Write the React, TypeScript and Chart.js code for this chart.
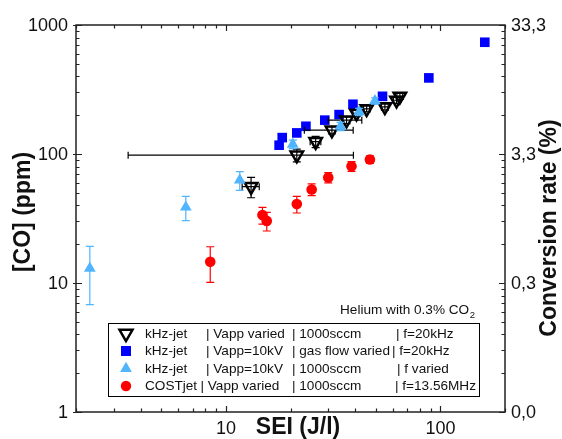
import React, { useEffect, useRef } from 'react';
import { Chart, registerables } from 'chart.js';

Chart.register(...registerables);

// ---------- Data ----------
// kHz-jet | Vapp varied | 1000sccm | f=20kHz (open inverted triangles)
const vappSEI = [13.1, 21.4, 26.2, 31.2, 36.5, 40.6, 45.3, 55.1, 62.4, 64.7];
const vappCO = [55.8, 98, 124.5, 153, 183, 207, 224, 232, 261, 280];
const vappSEIErr = [1.2, 17.9, 1.5, 8, 6.5, 1.5, 1.5, 2, 2, 2];
const vappCOErr = [10, 11, 12.5, 10, 11, 12, 12, 13, 14, 15];

// kHz-jet | Vapp=10kV | gas flow varied | f=20kHz (blue squares)
const flowSEI = [17.7, 18.3, 21.4, 23.6, 28.9, 33.7, 39.1, 53.7, 88.3, 161];
const flowCO = [117, 134, 145.7, 164, 183, 202, 243, 280, 389, 735];

// kHz-jet | Vapp=10kV | 1000sccm | f varied (light blue triangles)
const freqSEI = [2.32, 6.5, 11.6, 20.5, 34.2, 41.8, 49.5];
const freqCO = [13.0, 38.7, 62.7, 119, 164, 212, 258];
const freqCOErr = [6.2, 8.3, 10.4, 9, 12, 14, 15];

// COSTjet | Vapp varied | 1000sccm | f=13.56MHz (red circles)
const costSEI = [8.45, 14.8, 15.5, 21.4, 25.1, 30.0, 38.5, 46.9];
const costCO = [14.6, 33.6, 30.3, 40.9, 53.1, 65.8, 80.4, 90.6];
const costCOErr = [4.5, 5, 5, 6, 5.5, 6, 7, 6];

// ---------- Axis labels ----------
const xTickValues = [10, 100];
const xTickLabels = ['10', '100'];
const yTickValues = [1, 10, 100, 1000];
const yTickLabels = ['1', '10', '100', '1000'];
const rightTickLabels = ['0,0', '0,3', '3,3', '33,3'];
const xTitle = 'SEI (J/l)';
const yTitle = '[CO] (ppm)';
const rightTitle = 'Conversion rate (%)';

// ---------- Legend ----------
const legendNames = ['kHz-jet', 'kHz-jet', 'kHz-jet', 'COSTjet'];
const legendVapp = ['| Vapp varied', '| Vapp=10kV', '| Vapp=10kV', '| Vapp varied'];
const legendFlow = ['| 1000sccm', '| gas flow varied', '| 1000sccm', '| 1000sccm'];
const legendFreq = ['| f=20kHz', '| f=20kHz', '| f varied', '| f=13.56MHz'];
const annotationText = 'Helium with 0.3% CO';
const annotationSub = '2';

const BLACK = '#000000';
const BLUE = '#0000FF';
const LIGHTBLUE = '#50B4FF';
const RED = '#FF0000';

const FONT = '"Liberation Sans", Arial, Helvetica, sans-serif';

const toPoints = (xs: number[], ys: number[]) => xs.map((x, i) => ({ x, y: ys[i] }));

const errorBarPlugin = {
  id: 'errorBars',
  beforeDatasetDraw(chart: any, args: any) {
    const ds: any = chart.data.datasets[args.index];
    if (!ds.errY && !ds.errX) return;
    const xs = chart.scales.x;
    const ys = chart.scales.y;
    const ctx = chart.ctx;
    ctx.save();
    ctx.strokeStyle = ds.errColor;
    ctx.lineWidth = 1.2;
    const cap = 4;
    (ds.data as any[]).forEach((p, i) => {
      const px = xs.getPixelForValue(p.x);
      const py = ys.getPixelForValue(p.y);
      if (ds.errY) {
        const e = ds.errY[i];
        const y1 = ys.getPixelForValue(p.y + e);
        const y2 = ys.getPixelForValue(Math.max(p.y - e, 1e-6));
        ctx.beginPath();
        ctx.moveTo(px, y1); ctx.lineTo(px, y2);
        ctx.moveTo(px - cap, y1); ctx.lineTo(px + cap, y1);
        ctx.moveTo(px - cap, y2); ctx.lineTo(px + cap, y2);
        ctx.stroke();
      }
      if (ds.errX) {
        const e = ds.errX[i];
        const x1 = xs.getPixelForValue(Math.max(p.x - e, 1e-6));
        const x2 = xs.getPixelForValue(p.x + e);
        ctx.beginPath();
        ctx.moveTo(x1, py); ctx.lineTo(x2, py);
        ctx.moveTo(x1, py - 3.5); ctx.lineTo(x1, py + 3.5);
        ctx.moveTo(x2, py - 3.5); ctx.lineTo(x2, py + 3.5);
        ctx.stroke();
      }
    });
    ctx.restore();
  },
};

function minorValues(min: number, max: number) {
  const out: { v: number; major: boolean }[] = [];
  for (let d = 1; d <= 1000; d *= 10) {
    for (let m = 1; m <= 9; m++) {
      const v = m * d;
      if (v >= min - 1e-9 && v <= max + 1e-9) out.push({ v, major: m === 1 });
    }
  }
  return out;
}

const framePlugin = {
  id: 'frame',
  afterDraw(chart: any) {
    const { ctx, chartArea } = chart;
    const { left, right, top, bottom } = chartArea;
    const xs = chart.scales.x;
    const ys = chart.scales.y;
    ctx.save();
    ctx.strokeStyle = '#222';
    ctx.lineWidth = 1.5;
    ctx.strokeRect(left, top, right - left, bottom - top);

    // ticks
    ctx.lineWidth = 1.2;
    ctx.beginPath();
    minorValues(xs.min, xs.max).forEach(({ v, major }) => {
      const px = Math.round(xs.getPixelForValue(v)) + 0.5;
      const len = major ? 6 : 3.5;
      ctx.moveTo(px, bottom); ctx.lineTo(px, bottom - len);
      ctx.moveTo(px, top); ctx.lineTo(px, top + len);
    });
    minorValues(ys.min, ys.max).forEach(({ v, major }) => {
      const py = Math.round(ys.getPixelForValue(v)) + 0.5;
      const len = major ? 6 : 3.5;
      ctx.moveTo(left - (major ? 3 : 0), py); ctx.lineTo(left + len, py);
      ctx.moveTo(right, py); ctx.lineTo(right - len, py);
    });
    ctx.stroke();

    // tick labels
    ctx.fillStyle = '#111';
    ctx.font = `18px ${FONT}`;
    ctx.textBaseline = 'middle';
    ctx.textAlign = 'center';
    xTickValues.forEach((v, i) => {
      ctx.fillText(xTickLabels[i], xs.getPixelForValue(v), bottom + 17);
    });
    ctx.textAlign = 'right';
    yTickValues.forEach((v, i) => {
      ctx.fillText(yTickLabels[i], left - 8, ys.getPixelForValue(v) + 1);
    });
    ctx.textAlign = 'left';
    yTickValues.forEach((v, i) => {
      ctx.fillText(rightTickLabels[i], right + 6, ys.getPixelForValue(v) + 1);
    });

    // titles
    ctx.font = `bold 23px ${FONT}`;
    ctx.textAlign = 'center';
    ctx.fillText(xTitle, 298, bottom + 16);
    ctx.save();
    ctx.translate(24, 212);
    ctx.rotate(-Math.PI / 2);
    ctx.fillText(yTitle, 0, 0);
    ctx.restore();
    ctx.save();
    ctx.translate(550, 228);
    ctx.rotate(-Math.PI / 2);
    ctx.fillText(rightTitle, 0, 0);
    ctx.restore();

    // annotation
    ctx.font = `13.6px ${FONT}`;
    ctx.textAlign = 'left';
    ctx.fillText(annotationText, 340, 310);
    const w = ctx.measureText(annotationText).width;
    ctx.font = `9.5px ${FONT}`;
    ctx.fillText(annotationSub, 340 + w + 0.5, 315);

    // legend box
    const bx = 108, by = 323, bw = 371, bh = 73;
    ctx.lineWidth = 1;
    ctx.strokeStyle = '#000';
    ctx.strokeRect(bx + 0.5, by + 0.5, bw, bh);
    const rowY = [333.5, 351, 368.5, 386];
    const sx = 126;
    {
      const r = 7.5, y = rowY[0];
      ctx.beginPath();
      ctx.moveTo(sx, y + r);
      ctx.lineTo(sx - r * 0.866, y - r / 2);
      ctx.lineTo(sx + r * 0.866, y - r / 2);
      ctx.closePath();
      ctx.lineWidth = 2.5;
      ctx.strokeStyle = BLACK;
      ctx.stroke();
    }
    ctx.fillStyle = BLUE;
    ctx.fillRect(sx - 5, rowY[1] - 5, 10, 10);
    {
      const r = 6.8, y = rowY[2];
      ctx.beginPath();
      ctx.moveTo(sx, y - r);
      ctx.lineTo(sx - r * 0.866, y + r / 2);
      ctx.lineTo(sx + r * 0.866, y + r / 2);
      ctx.closePath();
      ctx.fillStyle = LIGHTBLUE;
      ctx.fill();
    }
    ctx.beginPath();
    ctx.arc(sx, rowY[3], 5.2, 0, Math.PI * 2);
    ctx.fillStyle = RED;
    ctx.fill();

    ctx.fillStyle = '#111';
    ctx.font = `13.6px ${FONT}`;
    const vappX = [206, 206, 206, 200.5];
    const freqX = [396, 392, 397, 395];
    for (let i = 0; i < 4; i++) {
      ctx.fillText(legendNames[i], 145, rowY[i] + 0.5);
      ctx.fillText(legendVapp[i], vappX[i], rowY[i] + 0.5);
      ctx.fillText(legendFlow[i], 292, rowY[i] + 0.5);
      ctx.fillText(legendFreq[i], freqX[i], rowY[i] + 0.5);
    }
    ctx.restore();
  },
};

export default function App() {
  const ref = useRef<HTMLCanvasElement | null>(null);

  useEffect(() => {
    if (!ref.current) return;
    const chart = new Chart(ref.current, {
      type: 'scatter',
      data: {
        datasets: [
          {
            label: 'kHz-jet | Vapp varied | 1000sccm | f=20kHz',
            data: toPoints(vappSEI, vappCO),
            pointStyle: 'triangle',
            rotation: 180,
            pointRadius: 7.2,
            pointBorderWidth: 2.5,
            borderColor: BLACK,
            backgroundColor: 'rgba(255,255,255,0)',
            order: 3,
            errX: vappSEIErr,
            errY: vappCOErr,
            errColor: BLACK,
          } as any,
          {
            label: 'kHz-jet | Vapp=10kV | gas flow varied | f=20kHz',
            data: toPoints(flowSEI, flowCO),
            pointStyle: 'rect',
            pointRadius: 6.8,
            pointBorderWidth: 0,
            borderColor: BLUE,
            backgroundColor: BLUE,
            order: 4,
          } as any,
          {
            label: 'kHz-jet | Vapp=10kV | 1000sccm | f varied',
            data: toPoints(freqSEI, freqCO),
            pointStyle: 'triangle',
            pointRadius: 6.8,
            pointBorderWidth: 0,
            borderColor: LIGHTBLUE,
            backgroundColor: LIGHTBLUE,
            order: 2,
            errY: freqCOErr,
            errColor: LIGHTBLUE,
          } as any,
          {
            label: 'COSTjet | Vapp varied | 1000sccm | f=13.56MHz',
            data: toPoints(costSEI, costCO),
            pointStyle: 'circle',
            pointRadius: 5.3,
            pointBorderWidth: 0,
            borderColor: RED,
            backgroundColor: RED,
            order: 1,
            errY: costCOErr,
            errColor: RED,
          } as any,
        ],
      },
      options: {
        animation: false,
        responsive: false,
        devicePixelRatio: 1,
        layout: { padding: { left: 76, top: 25, right: 57, bottom: 27 } },
        scales: {
          x: { type: 'logarithmic', min: 2, max: 200, display: false },
          y: { type: 'logarithmic', min: 1, max: 1000, display: false },
        },
        plugins: {
          legend: { display: false },
          tooltip: { enabled: false },
        },
      },
      plugins: [errorBarPlugin, framePlugin],
    });
    return () => chart.destroy();
  }, []);

  return (
    <div style={{ position: 'absolute', left: 0, top: 0, width: 562, height: 439, background: '#fff' }}>
      <canvas ref={ref} width={562} height={439} style={{ width: 562, height: 439 }} />
    </div>
  );
}
